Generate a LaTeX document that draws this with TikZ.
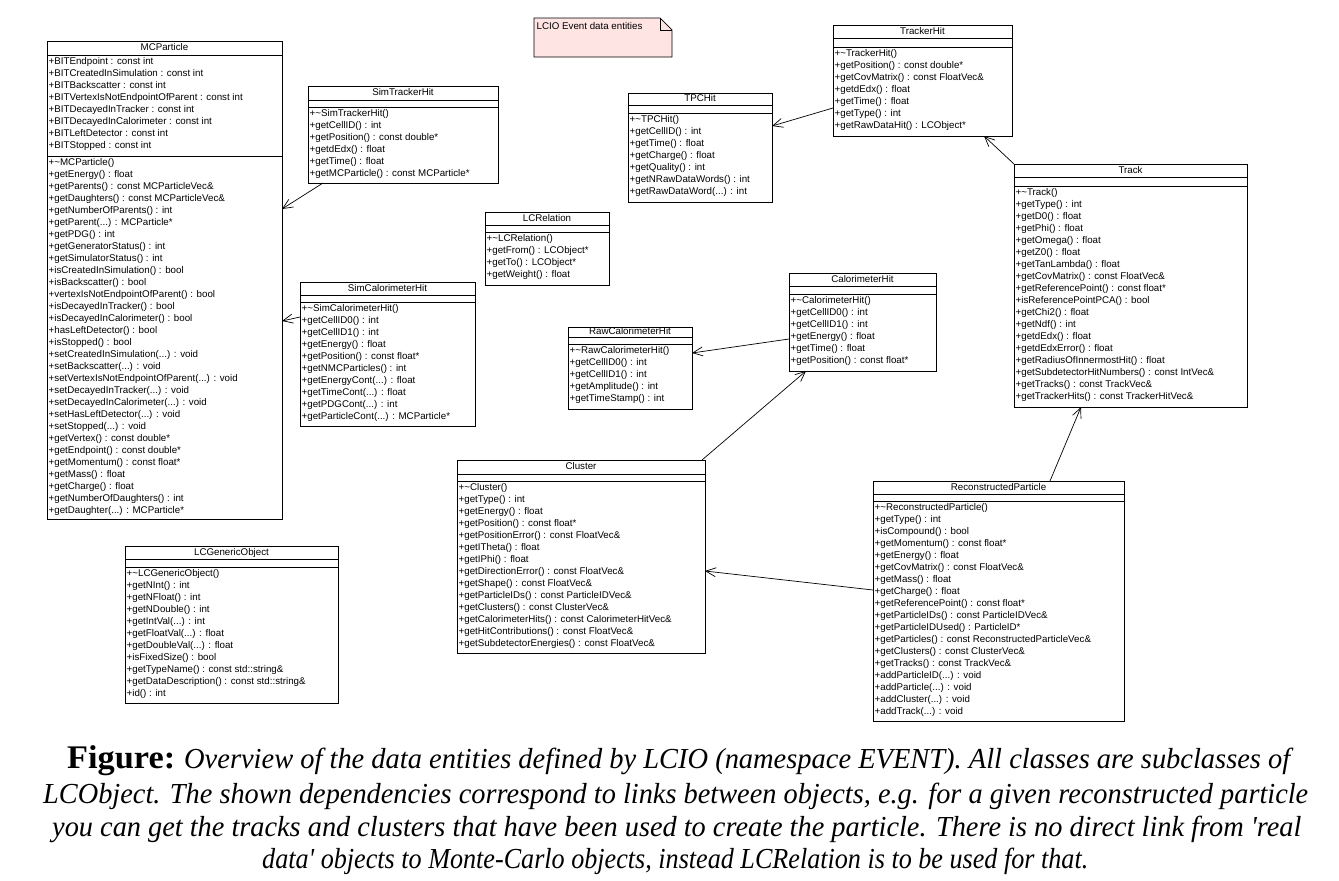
\documentclass[tikz,border=0pt]{standalone}
\usepackage{graphicx}
\usepackage{fontspec}
\setmainfont{Liberation Serif}
\newfontfamily\umlsans{Liberation Sans}
\usetikzlibrary{arrows.meta}
\definecolor{notepink}{RGB}{255,228,228}
\newcommand\umlf{\umlsans\fontsize{9.75}{12}\selectfont}
\newcommand\capf{\fontsize{29}{33}\selectfont\itshape}
\newcommand\td{.{}.{}.}
\tikzset{
  clsbox/.style={draw=black, fill=white, line width=0.8pt, inner sep=0pt, outer sep=0pt},
  clsline/.style={draw=black, line width=0.8pt},
  clstitle/.style={font=\umlf, inner sep=0pt, text height=7pt, text depth=2pt},
  mem/.style={font=\umlf, inner sep=0pt, anchor=base west},
  dep/.style={draw=black, line width=0.7pt, -{Straight Barb[length=10pt,width=9pt,line width=0.7pt]}},
  capnode/.style={inner sep=0pt, anchor=base west}
}
\newcommand\umlclass[8]{%
  \node[clsbox, minimum width={#4-#3}, minimum height={#8-#5}, anchor=north west] (#1) at (#3,#5) {};
  \draw[clsline] (#3,#6) -- (#4,#6);
  \draw[clsline] (#3,#7) -- (#4,#7);
  \node[clstitle] (#1-title) at ({(#3+#4)/2},{(#5+#6)/2}) {#2};
}
\newcommand\umlmembers[4]{%
  \foreach \mtext [count=\k] in {#4} {\node[mem] (#1-\k) at (#2,{#3+12*(\k-1)}) {\mtext};}
}
\begin{document}
\begin{tikzpicture}[x=1pt,y=-1pt]
\useasboundingbox (0,0) rectangle (1339,881);
\fill[white] (0,0) rectangle (1339,881);

% note
\filldraw[fill=notepink, draw=black, line width=0.7pt] (534,18) -- (660,18) -- (672,30) -- (672,57) -- (534,57) -- cycle;
\draw[line width=0.7pt] (660,18) -- (660,30) -- (672,30);
\node[mem] (note) at (536.5,29) {LCIO Event data entities};

% MCParticle
\umlclass{mc}{MCParticle}{47}{282}{41}{55}{156}{519}
\umlmembers{mc-at}{48.5}{64}{+BITEndpoint : const int,+BITCreatedInSimulation : const int,+BITBackscatter : const int,+BITVertexIsNotEndpointOfParent : const int,+BITDecayedInTracker : const int,+BITDecayedInCalorimeter : const int,+BITLeftDetector : const int,+BITStopped : const int}
\umlmembers{mc-op}{48.5}{165}{+\textasciitilde MCParticle(),+getEnergy() : float,+getParents() : const MCParticleVec\&,+getDaughters() : const MCParticleVec\&,+getNumberOfParents() : int,+getParent(\td) : MCParticle*,+getPDG() : int,+getGeneratorStatus() : int,+getSimulatorStatus() : int,+isCreatedInSimulation() : bool,+isBackscatter() : bool,+vertexIsNotEndpointOfParent() : bool,+isDecayedInTracker() : bool,+isDecayedInCalorimeter() : bool,+hasLeftDetector() : bool,+isStopped() : bool,+setCreatedInSimulation(\td) : void,+setBackscatter(\td) : void,+setVertexIsNotEndpointOfParent(\td) : void,+setDecayedInTracker(\td) : void,+setDecayedInCalorimeter(\td) : void,+setHasLeftDetector(\td) : void,+setStopped(\td) : void,+getVertex() : const double*,+getEndpoint() : const double*,+getMomentum() : const float*,+getMass() : float,+getCharge() : float,+getNumberOfDaughters() : int,+getDaughter(\td) : MCParticle*}

% SimTrackerHit
\umlclass{sth}{SimTrackerHit}{308}{498}{86}{100}{107}{183}
\umlmembers{sth-op}{309.5}{116}{+\textasciitilde SimTrackerHit(),+getCellID() : int,+getPosition() : const double*,+getdEdx() : float,+getTime() : float,+getMCParticle() : const MCParticle*}

% TPCHit
\umlclass{tpc}{TPCHit}{628}{772}{93}{105}{113}{202}
\umlmembers{tpc-op}{629.5}{122}{+\textasciitilde TPCHit(),+getCellID() : int,+getTime() : float,+getCharge() : float,+getQuality() : int,+getNRawDataWords() : int,+getRawDataWord(\td) : int}

% TrackerHit
\umlclass{thit}{TrackerHit}{833}{1012}{25}{38}{47}{136}
\umlmembers{thit-op}{834.5}{56}{+\textasciitilde TrackerHit(),+getPosition() : const double*,+getCovMatrix() : const FloatVec\&,+getdEdx() : float,+getTime() : float,+getType() : int,+getRawDataHit() : LCObject*}

% Track
\umlclass{track}{Track}{1014}{1247}{164}{177}{186}{407}
\umlmembers{track-op}{1015.5}{195}{+\textasciitilde Track(),+getType() : int,+getD0() : float,+getPhi() : float,+getOmega() : float,+getZ0() : float,+getTanLambda() : float,+getCovMatrix() : const FloatVec\&,+getReferencePoint() : const float*,+isReferencePointPCA() : bool,+getChi2() : float,+getNdf() : int,+getdEdx() : float,+getdEdxError() : float,+getRadiusOfInnermostHit() : float,+getSubdetectorHitNumbers() : const IntVec\&,+getTracks() : const TrackVec\&,+getTrackerHits() : const TrackerHitVec\&}

% LCRelation
\umlclass{lcr}{LCRelation}{485}{609}{212}{225}{232}{285}
\umlmembers{lcr-op}{486.5}{241}{+\textasciitilde LCRelation(),+getFrom() : LCObject*,+getTo() : LCObject*,+getWeight() : float}

% SimCalorimeterHit
\umlclass{scal}{SimCalorimeterHit}{300}{475}{282}{295}{302}{426}
\umlmembers{scal-op}{301.5}{311}{+\textasciitilde SimCalorimeterHit(),+getCellID0() : int,+getCellID1() : int,+getEnergy() : float,+getPosition() : const float*,+getNMCParticles() : int,+getEnergyCont(\td) : float,+getTimeCont(\td) : float,+getPDGCont(\td) : int,+getParticleCont(\td) : MCParticle*}

% RawCalorimeterHit
\umlclass{raw}{RawCalorimeterHit}{568}{692}{327}{337}{344}{409}
\umlmembers{raw-op}{569.5}{353}{+\textasciitilde RawCalorimeterHit(),+getCellID0() : int,+getCellID1() : int,+getAmplitude() : int,+getTimeStamp() : int}

% CalorimeterHit
\umlclass{cal}{CalorimeterHit}{789}{936}{273}{286}{294}{371}
\umlmembers{cal-op}{790.5}{303}{+\textasciitilde CalorimeterHit(),+getCellID0() : int,+getCellID1() : int,+getEnergy() : float,+getTime() : float,+getPosition() : const float*}

% Cluster
\umlclass{clu}{Cluster}{457}{705}{460}{474}{481}{653}
\umlmembers{clu-op}{458.5}{490}{+\textasciitilde Cluster(),+getType() : int,+getEnergy() : float,+getPosition() : const float*,+getPositionError() : const FloatVec\&,+getITheta() : float,+getIPhi() : float,+getDirectionError() : const FloatVec\&,+getShape() : const FloatVec\&,+getParticleIDs() : const ParticleIDVec\&,+getClusters() : const ClusterVec\&,+getCalorimeterHits() : const CalorimeterHitVec\&,+getHitContributions() : const FloatVec\&,+getSubdetectorEnergies() : const FloatVec\&}

% ReconstructedParticle
\umlclass{rp}{ReconstructedParticle}{873}{1124}{481}{494}{501}{721}
\umlmembers{rp-op}{874.5}{510}{+\textasciitilde ReconstructedParticle(),+getType() : int,+isCompound() : bool,+getMomentum() : const float*,+getEnergy() : float,+getCovMatrix() : const FloatVec\&,+getMass() : float,+getCharge() : float,+getReferencePoint() : const float*,+getParticleIDs() : const ParticleIDVec\&,+getParticleIDUsed() : ParticleID*,+getParticles() : const ReconstructedParticleVec\&,+getClusters() : const ClusterVec\&,+getTracks() : const TrackVec\&,+addParticleID(\td) : void,+addParticle(\td) : void,+addCluster(\td) : void,+addTrack(\td) : void}

% LCGenericObject
\umlclass{lcg}{LCGenericObject}{125}{338}{546}{559}{567}{703}
\umlmembers{lcg-op}{126.5}{576}{+\textasciitilde LCGenericObject(),+getNInt() : int,+getNFloat() : int,+getNDouble() : int,+getIntVal(\td) : int,+getFloatVal(\td) : float,+getDoubleVal(\td) : float,+isFixedSize() : bool,+getTypeName() : const std::string\&,+getDataDescription() : const std::string\&,+id() : int}

% connectors
\draw[dep] ([xshift=15pt]sth.south west) -- ([yshift=-168pt]mc.north east);
\draw[dep] ([yshift=-35pt]scal.north west) -- ([yshift=-280pt]mc.north east);
\draw[dep] ([yshift=-83pt]thit.north west) -- ([yshift=-33pt]tpc.north east);
\draw[dep] (track.north west) -- ([xshift=151pt]thit.south west);
\draw[dep] ([yshift=-66pt]cal.north west) -- ([yshift=-26pt]raw.north east);
\draw[dep] ([xshift=-3pt]clu.north east) -- ([xshift=17pt]cal.south west);
\draw[dep] ([yshift=-109pt]rp.north west) -- ([yshift=-111pt]clu.north east);
\draw[dep] ([xshift=177pt]rp.north west) -- ([xshift=67pt]track.south west);

% caption
\node[capnode] (cap0) at (67,768) {\resizebox{108pt}{\height}{\fontsize{33}{36}\selectfont\bfseries Figure:}};
\node[capnode] (cap1) at (184,768) {\resizebox{1106pt}{\height}{\capf Overview of the data entities defined by LCIO (namespace EVENT). All classes are subclasses of}};
\node[capnode] (cap2) at (43,803) {\resizebox{1265pt}{\height}{\capf LCObject. The shown dependencies correspond to links between objects, e.g. for a given reconstructed particle}};
\node[capnode] (cap3) at (52,836) {\resizebox{1249pt}{\height}{\capf you can get the tracks and clusters that have been used to create the particle. There is no direct link from \textquotesingle real}};
\node[capnode] (cap4) at (262,868) {\resizebox{826pt}{\height}{\capf data\textquotesingle{} objects to Monte-Carlo objects, instead LCRelation is to be used for that.}};
\end{tikzpicture}
\end{document}
